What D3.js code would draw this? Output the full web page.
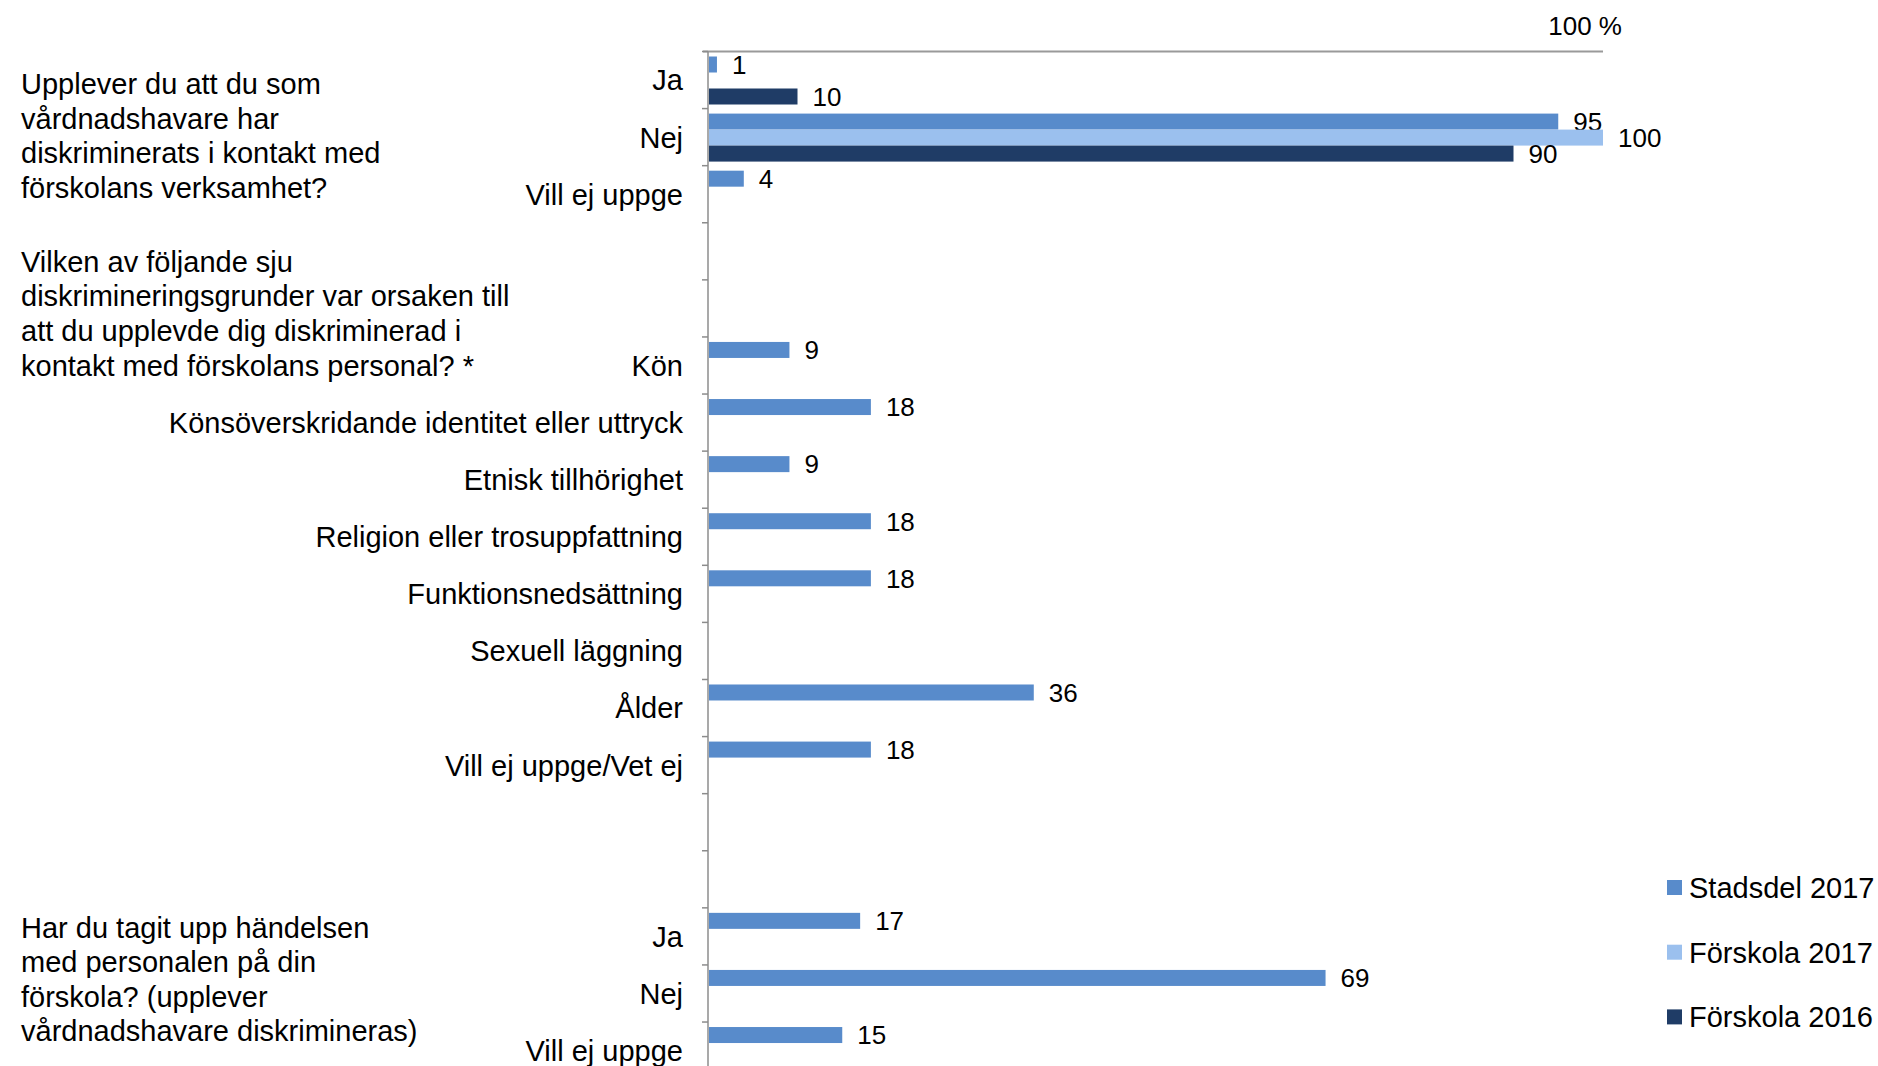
<!DOCTYPE html>
<html>
<head>
<meta charset="utf-8">
<script src="https://cdn.jsdelivr.net/npm/d3@7"></script>
<style>
  html, body { margin: 0; padding: 0; background: #ffffff; }
  svg { display: block; font-family: "Liberation Sans", Arial, sans-serif; }
</style>
</head>
<body>
<svg id="chart" width="1878" height="1066"></svg>
<script>
// ---- Data ----
const categories = [
  "Ja", "Nej", "Vill ej uppge", "", "",
  "Kön", "Könsöverskridande identitet eller uttryck", "Etnisk tillhörighet",
  "Religion eller trosuppfattning", "Funktionsnedsättning", "Sexuell läggning",
  "Ålder", "Vill ej uppge/Vet ej", "", "",
  "Ja", "Nej", "Vill ej uppge"
];
const seriesNames = ["Stadsdel 2017", "Förskola 2017", "Förskola 2016"];
const stadsdel2017 = [1, 95, 4, null, null, 9.1, 18.2, 9.1, 18.2, 18.2, null, 36.4, 18.2, null, null, 17, 69, 15];
const forskola2017 = [null, 100, null, null, null, null, null, null, null, null, null, null, null, null, null, null, null, null];
const forskola2016 = [10, 90, null, null, null, null, null, null, null, null, null, null, null, null, null, null, null, null];
const seriesValues = [stadsdel2017, forskola2017, forskola2016];
const seriesColors = ["#588bcb", "#9bc0ee", "#1f3c66"];
const questionLines = [
  ["Upplever du att du som", "vårdnadshavare har", "diskriminerats i kontakt med", "förskolans verksamhet?"],
  ["Vilken av följande sju", "diskrimineringsgrunder var orsaken till", "att du upplevde dig diskriminerad i", "kontakt med förskolans personal? *"],
  ["Har du tagit upp händelsen", "med personalen på din", "förskola? (upplever", "vårdnadshavare diskrimineras)"]
];
const topAxisLabel = "100 %";
const xMax = 100;

// ---- Layout ----
const svg = d3.select("#chart");
const axisX = 708;
const plotTop = 51.5;
const band = 57.09;
const x = d3.scaleLinear().domain([0, xMax]).range([axisX, 1603]);
const idx = d3.range(categories.length);
const y = d3.scaleBand().domain(idx).range([plotTop, plotTop + band * categories.length]).paddingInner(0).paddingOuter(0);
const ySeries = d3.scaleBand().domain(d3.range(seriesNames.length)).range([5, 53]).padding(0);
const fmt = d3.format(".0f");

// top axis line
svg.append("line")
  .attr("x1", axisX - 5).attr("x2", x(xMax))
  .attr("y1", plotTop).attr("y2", plotTop)
  .attr("stroke", "#9a9a9a").attr("stroke-width", 2);
svg.append("text")
  .attr("x", x(xMax) + 19).attr("y", 35)
  .attr("text-anchor", "end").attr("font-size", 26).attr("fill", "#000")
  .text(topAxisLabel);

// left axis, ticks at band boundaries
const yAxis = d3.axisLeft(y).tickSize(0).tickFormat(i => categories[i]).tickPadding(25);
const gy = svg.append("g").attr("transform", `translate(${axisX},0)`).call(yAxis);
gy.select(".domain").attr("stroke", "#8c8c8c").attr("stroke-width", 1.5).attr("d", `M0,${plotTop}V1066`);
gy.selectAll(".tick text")
  .attr("font-size", 29).attr("fill", "#000")
  .attr("font-family", "'Liberation Sans', Arial, sans-serif")
  .attr("dy", "0.36em");
svg.append("g").selectAll("line")
  .data(idx.concat([categories.length]))
  .join("line")
  .attr("x1", axisX - 6).attr("x2", axisX)
  .attr("y1", i => plotTop + i * band).attr("y2", i => plotTop + i * band)
  .attr("stroke", "#8c8c8c").attr("stroke-width", 1.5);

// bars
seriesValues.forEach((vals, s) => {
  const data = vals.map((v, i) => ({ i, v })).filter(d => d.v !== null);
  const g = svg.append("g");
  g.selectAll("rect").data(data).join("rect")
    .attr("x", x(0) + 1)
    .attr("y", d => y(d.i) + ySeries(s))
    .attr("width", d => x(d.v) - x(0) - 1)
    .attr("height", ySeries.bandwidth())
    .attr("fill", seriesColors[s]);
  g.selectAll("text").data(data).join("text")
    .attr("x", d => x(d.v) + 15)
    .attr("y", d => y(d.i) + ySeries(s) + ySeries.bandwidth() / 2)
    .attr("dy", "0.36em")
    .attr("font-size", 26).attr("fill", "#000")
    .text(d => fmt(d.v));
});

// question texts
const questionBaselines = [94, 271.7, 937.6];
questionLines.forEach((lines, q) => {
  const t = svg.append("text").attr("font-size", 29).attr("fill", "#000");
  lines.forEach((ln, k) => {
    t.append("tspan").attr("x", 21).attr("y", questionBaselines[q] + k * 34.6).text(ln);
  });
});

// legend
const legend = svg.append("g");
seriesNames.forEach((name, s) => {
  const cy = 887.5 + s * 64.7;
  legend.append("rect").attr("x", 1667).attr("y", cy - 7.5).attr("width", 15).attr("height", 15).attr("fill", seriesColors[s]);
  legend.append("text").attr("x", 1689).attr("y", cy + 10.5).attr("font-size", 29).attr("fill", "#000").text(name);
});
</script>
</body>
</html>
